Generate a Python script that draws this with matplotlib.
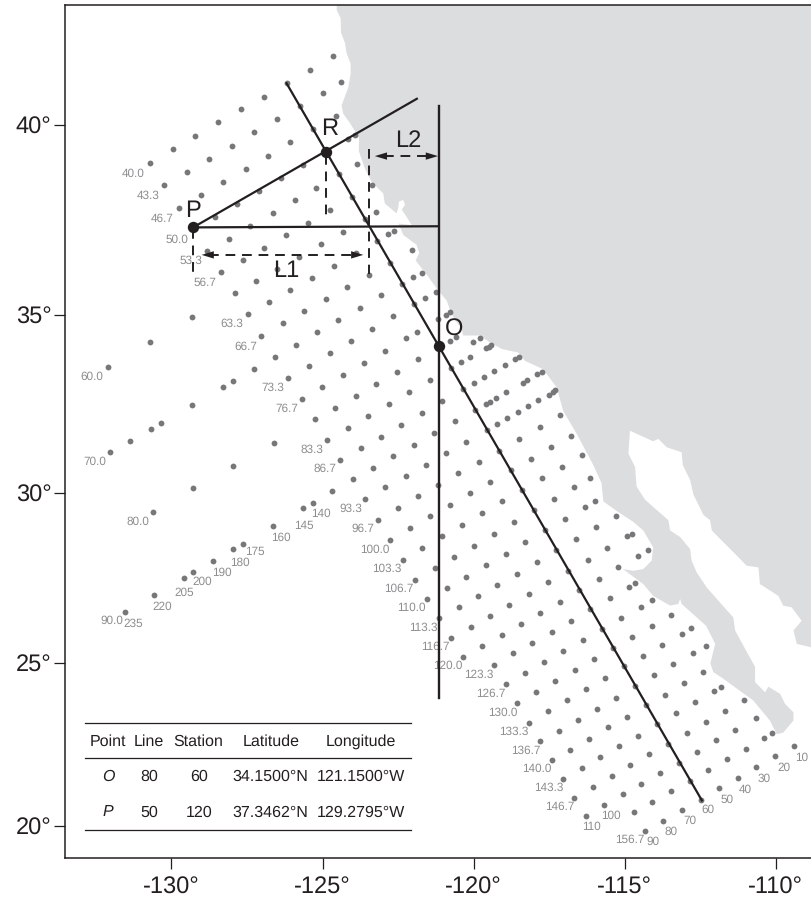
import numpy as np
import matplotlib
matplotlib.use('Agg')
import matplotlib.pyplot as plt

plt.rcParams['font.family'] = ['Liberation Sans', 'DejaVu Sans']
plt.rcParams['text.hinting'] = 'no_hinting'

# stations, one pair of lists per CalCOFI line
line40_lon = [-130.70, -129.96, -129.21, -128.46, -127.71, -126.95, -126.19, -125.42, -124.65]
line40_lat = [39.04, 39.39, 39.73, 40.07, 40.40, 40.72, 41.06, 41.40, 41.73]
line43_lon = [-130.23, -129.49, -128.75, -128.01, -127.26, -126.51, -125.75, -124.99, -124.38]
line43_lat = [38.47, 38.80, 39.14, 39.48, 39.82, 40.16, 40.49, 40.82, 41.09]
line46_lon = [-129.75, -129.01, -128.29, -127.54, -126.81, -126.06, -125.31, -124.56]
line46_lat = [37.87, 38.20, 38.54, 38.88, 39.22, 39.56, 39.91, 40.24]
line50_lon = [-129.28, -128.56, -127.83, -127.10, -126.37, -125.63, -124.89, -124.15, -123.93]
line50_lat = [37.35, 37.63, 37.97, 38.30, 38.64, 38.98, 39.32, 39.65, 39.76]
line53_lon = [-128.83, -128.11, -127.39, -126.65, -125.92, -125.20, -124.46, -123.86]
line53_lat = [36.72, 37.05, 37.39, 37.73, 38.06, 38.39, 38.74, 39.01]
line56_lon = [-128.36, -127.64, -126.93, -126.20, -125.48, -124.76, -124.03, -123.36]
line56_lat = [36.15, 36.48, 36.81, 37.14, 37.47, 37.81, 38.14, 38.45]
line60_lon = [-132.11, -130.72, -129.32, -127.91, -127.20, -126.49, -125.78, -125.05, -124.33, -123.61, -123.24]
line60_lat = [33.58, 34.25, 34.94, 35.59, 35.91, 36.24, 36.57, 36.90, 37.24, 37.57, 37.75]
line63_lon = [-127.46, -126.76, -126.06, -125.34, -124.62, -123.90, -123.20, -122.83, -122.63]
line63_lat = [35.03, 35.36, 35.68, 36.01, 36.33, 36.67, 37.00, 37.17, 37.26]
line66_lon = [-127.02, -126.31, -125.61, -124.90, -124.19, -123.47, -122.77, -122.05]
line66_lat = [34.43, 34.77, 35.11, 35.43, 35.76, 36.08, 36.40, 36.74]
line70_lon = [-132.04, -131.36, -130.68, -130.35, -129.32, -128.30, -127.96, -127.26, -126.58,
              -125.88, -125.19, -124.48, -123.77, -123.07, -122.36, -122.02, -121.72]
line70_lat = [31.18, 31.51, 31.84, 32.01, 32.51, 33.01, 33.18, 33.51, 33.85,
              34.19, 34.53, 34.87, 35.20, 35.53, 35.85, 36.02, 36.14]
line73_lon = [-126.13, -125.45, -124.76, -124.06, -123.37, -122.66, -121.98, -121.61, -121.25]
line73_lat = [33.27, 33.60, 33.95, 34.28, 34.63, 34.97, 35.30, 35.46, 35.62]
line76_lon = [-125.69, -125.01, -124.33, -123.63, -122.94, -122.24, -121.89, -121.19, -120.92, -120.77]
line76_lat = [32.68, 33.02, 33.35, 33.69, 34.02, 34.37, 34.53, 34.88, 35.01, 35.08]
line80_lon = [-130.62, -129.30, -127.96, -126.62, -125.26, -124.59, -123.90, -123.22, -122.54,
              -121.84, -121.15, -120.79, -120.59]
line80_lat = [29.48, 30.15, 30.80, 31.45, 32.11, 32.44, 32.77, 33.11, 33.44,
              33.78, 34.15, 34.29, 34.41]
line81_lon = [-120.02, -119.79]
line81_lat = [34.25, 34.38]
line83_lon = [-124.85, -124.17, -123.49, -122.80, -122.13, -121.44, -120.75, -120.41, -120.12,
              -119.59, -119.50, -119.42]
line83_lat = [31.54, 31.87, 32.21, 32.54, 32.88, 33.21, 33.55, 33.72, 33.85, 34.10, 34.13, 34.18]
line86_lon = [-124.41, -123.73, -123.07, -122.40, -121.71, -121.04, -120.34, -120.00, -119.66,
              -119.32, -118.96, -118.62, -118.49]
line86_lat = [30.97, 31.29, 31.62, 31.95, 32.28, 32.62, 32.95, 33.12, 33.29, 33.46, 33.62, 33.80, 33.85]
line90_lon = [-131.53, -130.56, -129.59, -129.27, -128.62, -127.96, -127.63, -126.64, -125.66,
              -125.33, -124.67, -123.99, -123.32, -122.66, -121.99, -121.31, -120.63, -119.95,
              -119.60, -119.47, -119.26, -118.92, -118.38, -118.24, -117.91, -117.75]
line90_lat = [26.54, 27.04, 27.54, 27.71, 28.05, 28.38, 28.55, 29.06, 29.57,
              29.74, 30.08, 30.41, 30.73, 31.06, 31.39, 31.72, 32.05, 32.37,
              32.53, 32.60, 32.71, 32.88, 33.13, 33.20, 33.37, 33.44]
line93_lon = [-123.59, -122.93, -122.25, -121.58, -120.92, -120.24, -119.57, -119.23, -118.89,
              -118.54, -118.20, -117.86, -117.51, -117.39, -117.30]
line93_lat = [29.84, 30.18, 30.49, 30.83, 31.15, 31.48, 31.82, 31.98, 32.15,
              32.31, 32.48, 32.65, 32.80, 32.87, 32.92]
line96_lon = [-123.17, -122.51, -121.84, -121.17, -120.52, -119.83, -119.16, -118.49, -117.82, -117.13]
line96_lat = [29.24, 29.58, 29.92, 30.25, 30.58, 30.90, 31.22, 31.56, 31.89, 32.22]
line100_lon = [-122.76, -122.10, -121.44, -120.77, -120.12, -119.45, -118.78, -118.11, -117.44, -116.77]
line100_lat = [28.66, 28.99, 29.34, 29.67, 30.02, 30.34, 30.67, 31.00, 31.32, 31.65]
line103_lon = [-122.35, -121.70, -121.04, -120.39, -119.73, -119.06, -118.40, -117.74, -117.07, -116.41]
line103_lat = [28.08, 28.41, 28.76, 29.09, 29.44, 29.77, 30.11, 30.44, 30.76, 31.09]
line106_lon = [-121.94, -121.29, -120.64, -119.99, -119.33, -118.68, -118.01, -117.35, -116.69, -116.15]
line106_lat = [27.49, 27.83, 28.16, 28.49, 28.83, 29.17, 29.52, 29.85, 30.19, 30.45]
line110_lon = [-121.55, -120.89, -120.24, -119.59, -118.94, -118.29, -117.63, -116.98, -116.32, -115.99]
line110_lat = [26.91, 27.25, 27.58, 27.91, 28.25, 28.59, 28.93, 29.27, 29.61, 29.78]
line113_lon = [-121.15, -120.50, -119.86, -119.22, -118.57, -117.92, -117.27, -116.61, -115.95, -115.29]
line113_lat = [26.34, 26.68, 27.01, 27.34, 27.67, 28.01, 28.35, 28.69, 29.02, 29.36]
line116_lon = [-120.74, -120.10, -119.46, -118.82, -118.17, -117.53, -116.88, -116.23, -115.58, -114.92, -114.77]
line116_lat = [25.76, 26.09, 26.42, 26.75, 27.08, 27.41, 27.75, 28.08, 28.42, 28.76, 28.84]
line120_lon = [-120.35, -119.72, -119.07, -118.44, -117.80, -117.14, -116.51, -115.85, -115.22, -114.56, -114.23]
line120_lat = [25.19, 25.52, 25.86, 26.18, 26.51, 26.84, 27.18, 27.51, 27.85, 28.19, 28.35]
line123_lon = [-119.33, -118.69, -118.06, -117.42, -116.78, -116.14, -115.49, -114.85, -114.65]
line123_lat = [24.95, 25.30, 25.62, 25.95, 26.27, 26.61, 26.94, 27.28, 27.38]
line126_lon = [-118.94, -118.31, -117.67, -117.04, -116.39, -115.76, -115.12, -114.47, -114.09]
line126_lat = [24.36, 24.69, 25.04, 25.36, 25.69, 26.03, 26.35, 26.69, 26.88]
line130_lon = [-118.56, -117.93, -117.30, -116.66, -116.03, -115.39, -114.76, -114.11, -113.47]
line130_lat = [23.78, 24.12, 24.46, 24.79, 25.13, 25.45, 25.79, 26.12, 26.45]
line133_lon = [-118.18, -117.55, -116.92, -116.29, -115.67, -115.03, -114.40, -113.76, -113.12, -112.80]
line133_lat = [23.20, 23.54, 23.89, 24.21, 24.55, 24.90, 25.23, 25.55, 25.88, 26.04]
line136_lon = [-117.80, -117.17, -116.55, -115.92, -115.29, -114.65, -114.02, -113.40, -112.75, -112.31]
line136_lat = [22.62, 22.94, 23.29, 23.62, 23.96, 24.30, 24.63, 24.97, 25.30, 25.52]
line140_lon = [-117.42, -116.80, -116.17, -115.55, -114.93, -114.30, -113.67, -113.04, -112.41]
line140_lat = [22.05, 22.37, 22.71, 23.05, 23.37, 23.72, 24.05, 24.39, 24.73]
line143_lon = [-117.05, -116.43, -115.81, -115.19, -114.56, -113.94, -113.32, -112.69, -112.06, -111.81]
line143_lat = [21.47, 21.81, 22.15, 22.48, 22.80, 23.14, 23.48, 23.81, 24.15, 24.29]
line146_lon = [-116.67, -116.05, -115.43, -114.82, -114.19, -113.57, -112.95, -112.32, -111.69, -111.07]
line146_lat = [20.89, 21.23, 21.56, 21.89, 22.22, 22.55, 22.88, 23.22, 23.55, 23.89]
line150_lon = [-116.29, -115.69, -115.07, -114.45, -113.84, -113.22, -112.60, -111.97, -111.35, -110.66]
line150_lat = [20.33, 20.65, 20.99, 21.32, 21.65, 21.97, 22.31, 22.65, 22.98, 23.34]
line153_lon = [-114.70, -114.09, -113.48, -112.85, -112.25, -111.62, -111.00, -110.38, -110.13]
line153_lat = [20.43, 20.76, 21.08, 21.41, 21.74, 22.08, 22.40, 22.74, 22.87]
line156_lon = [-114.34, -113.73, -113.12, -112.49, -111.88, -111.26, -110.65, -110.03, -109.41]
line156_lat = [19.85, 20.17, 20.50, 20.82, 21.17, 21.49, 21.82, 22.16, 22.48]

# coast: California and Baja down the Pacific side, back up the Gulf, then the mainland
land_lon = [-124.53, -124.53, -124.40, -124.39, -124.26, -124.20, -124.07, -124.07, -124.15, -124.37,
            -124.32, -124.09, -123.79, -123.80, -123.60, -123.38, -122.99, -122.94, -122.55, -122.50,
            -122.47, -122.33, -122.27, -122.38, -122.22, -122.05, -122.49, -122.44, -122.33, -121.89,
            -121.80, -121.92, -121.56, -121.17, -120.89, -120.78, -120.62, -120.40, -120.35, -119.79,
            -119.46, -119.07, -118.52, -118.30, -117.70, -117.25, -117.04, -116.59, -116.04, -115.77,
            -115.71, -115.16, -114.72, -114.39, -114.06, -114.11, -114.39, -114.72, -115.06, -114.39,
            -114.06, -113.50, -113.23, -113.17, -113.12, -112.62, -112.31, -112.01, -112.17, -112.07,
            -111.74, -110.75, -110.20, -109.97, -109.76, -109.42, -109.42, -109.70, -109.86, -110.25,
            -110.36, -110.69, -110.69, -111.02, -111.35, -111.41, -111.85, -112.29, -112.62, -112.79,
            -112.84, -113.17, -113.50, -113.56, -114.33, -114.61, -114.66, -114.88, -114.83, -114.06,
            -113.89, -113.61, -113.12, -113.08, -112.84, -112.73, -112.40, -112.18, -112.12, -111.91,
            -111.30, -110.97, -110.58, -110.53, -109.92, -109.76, -109.48, -109.15, -109.42, -109.31,
            -108.70, -108.70]
land_lat = [43.50, 42.87, 42.67, 42.32, 42.07, 41.80, 41.55, 41.30, 40.95, 40.50,
            40.30, 40.05, 39.68, 39.34, 38.89, 38.55, 38.24, 37.98, 37.72, 37.85,
            38.03, 38.07, 37.94, 37.82, 37.63, 37.41, 37.45, 37.37, 37.15, 36.89,
            36.67, 36.47, 36.10, 35.66, 35.39, 35.13, 34.86, 34.64, 34.44, 34.44,
            34.25, 34.07, 33.97, 33.74, 33.51, 33.00, 32.35, 31.70, 30.81, 30.30,
            29.77, 29.43, 29.18, 28.93, 28.44, 28.05, 27.80, 27.75, 27.80, 27.36,
            27.01, 26.72, 26.77, 26.92, 26.77, 26.37, 26.12, 25.58, 24.99, 24.73,
            24.53, 23.87, 23.26, 22.84, 22.89, 23.26, 23.51, 23.77, 24.07, 24.29,
            24.12, 24.43, 24.89, 25.43, 25.98, 26.37, 26.81, 27.26, 27.70, 28.05,
            28.39, 28.74, 28.93, 29.23, 29.82, 30.20, 30.76, 31.14, 31.79, 31.49,
            31.56, 31.32, 31.18, 30.81, 30.39, 29.97, 29.38, 29.23, 28.93, 28.74,
            28.20, 27.90, 27.85, 27.36, 27.01, 26.72, 26.67, 26.27, 25.98, 25.58,
            25.45, 43.50]

# line and station labels
line_names = ['40.0', '43.3', '46.7', '50.0', '53.3', '56.7', '60.0', '63.3', '66.7', '70.0', '73.3',
              '76.7', '80.0', '83.3', '86.7', '90.0', '93.3', '96.7', '100.0', '103.3', '106.7',
              '110.0', '113.3', '116.7', '120.0', '123.3', '126.7', '130.0', '133.3', '136.7',
              '140.0', '143.3', '146.7', '156.7']
line_name_lon = [-131.25, -130.78, -130.29, -129.82, -129.35, -128.89, -132.62, -127.99, -127.53, -132.53,
                 -126.63, -126.19, -131.11, -125.34, -124.91, -131.98, -124.07, -123.66, -123.28, -122.88,
                 -122.46, -122.07, -121.67, -121.27, -120.86, -119.83, -119.44, -119.05, -118.68, -118.29,
                 -117.92, -117.53, -117.15, -114.82]
line_name_lat = [38.76, 38.19, 37.58, 37.03, 36.45, 35.87, 33.30, 34.76, 34.14, 30.92,
                 33.00, 32.40, 29.17, 31.26, 30.70, 26.27, 29.57, 28.97, 28.37, 27.82,
                 27.23, 26.67, 26.07, 25.49, 24.91, 24.66, 24.08, 23.50, 22.92, 22.33,
                 21.78, 21.20, 20.61, 19.58]
station_names = ['235', '220', '205', '200', '190', '180', '175', '160', '145', '140', '110',
                 '100', '90', '80', '70', '60', '50', '40', '30', '20', '10']
station_name_lon = [-131.26, -130.30, -129.59, -128.97, -128.34, -127.73, -127.25, -126.39, -125.63, -125.04,
                    -116.10, -115.47, -114.08, -113.46, -112.85, -112.24, -111.62, -111.01, -110.39, -109.75,
                    -109.15]
station_name_lat = [26.19, 26.70, 27.11, 27.43, 27.69, 27.99, 28.31, 28.71, 29.08, 29.41,
                    19.97, 20.31, 19.52, 19.83, 20.16, 20.50, 20.81, 21.14, 21.47, 21.81,
                    22.13]

# reference points and construction lines
point_names = ['O', 'P', 'R']
point_lon = [-121.15, -129.28, -124.89]
point_lat = [34.15, 37.35, 39.32]
table_header = ['Point', 'Line', 'Station', 'Latitude', 'Longitude']
table_row_o = ['O', '80', '60', '34.1500°N', '121.1500°W']
table_row_p = ['P', '50', '120', '37.3462°N', '129.2795°W']
lon_ticks = [-130, -125, -120, -115, -110]
lat_ticks = [20, 25, 30, 35, 40]

INK = '#231f20'
GREY = '#8e8e90'


def merc(lat):
    return np.log(np.tan(np.pi / 4 + np.radians(lat) / 2))


def inv_merc(y):
    return np.degrees(2 * np.arctan(np.exp(y)) - np.pi / 2)


fig = plt.figure(figsize=(8.11, 8.99), dpi=100)
ax = fig.add_axes([0.0805, 0.0456, 0.9195, 0.9492])
ax.set_yscale('function', functions=(merc, inv_merc))
ax.set_xlim(-133.51, -108.84)
ax.set_ylim(19.0, 43.0)

ax.fill(land_lon, land_lat, color='#dcddde', lw=0, zorder=1)

all_lines = [(line40_lon, line40_lat), (line43_lon, line43_lat), (line46_lon, line46_lat),
             (line50_lon, line50_lat), (line53_lon, line53_lat), (line56_lon, line56_lat),
             (line60_lon, line60_lat), (line63_lon, line63_lat), (line66_lon, line66_lat),
             (line70_lon, line70_lat), (line73_lon, line73_lat), (line76_lon, line76_lat),
             (line80_lon, line80_lat), (line81_lon, line81_lat), (line83_lon, line83_lat),
             (line86_lon, line86_lat), (line90_lon, line90_lat), (line93_lon, line93_lat),
             (line96_lon, line96_lat), (line100_lon, line100_lat), (line103_lon, line103_lat),
             (line106_lon, line106_lat), (line110_lon, line110_lat), (line113_lon, line113_lat),
             (line116_lon, line116_lat), (line120_lon, line120_lat), (line123_lon, line123_lat),
             (line126_lon, line126_lat), (line130_lon, line130_lat), (line133_lon, line133_lat),
             (line136_lon, line136_lat), (line140_lon, line140_lat), (line143_lon, line143_lat),
             (line146_lon, line146_lat), (line150_lon, line150_lat), (line153_lon, line153_lat),
             (line156_lon, line156_lat)]
for lons, lats in all_lines:
    ax.plot(lons, lats, ls='none', marker='o', ms=4.2, mfc='#77777a', mec='none', zorder=2)

for name, x, y in zip(line_names, line_name_lon, line_name_lat):
    ax.text(x, y, name, color=GREY, fontsize=8.5, ha='center', va='center', zorder=3)
for name, x, y in zip(station_names, station_name_lon, station_name_lat):
    ax.text(x, y, name, color=GREY, fontsize=8.5, ha='center', va='center', zorder=3)

# solid construction lines
ax.plot([-126.19, -112.45], [41.06, 20.80], color=INK, lw=1.6, zorder=4)
ax.plot([-129.28, -121.88], [37.35, 40.67], color=INK, lw=1.6, zorder=4)
ax.plot([-129.28, -121.15], [37.35, 37.38], color=INK, lw=1.6, zorder=4)
ax.plot([-121.15, -121.15], [40.50, 23.95], color=INK, lw=1.7, zorder=4)

# dashed drop lines and the L1/L2 spans
dash = dict(color=INK, lw=1.4, ls=(0, (5, 3.5)), zorder=4)
ax.plot([-124.89, -124.89], [39.25, 37.55], **dash)
ax.plot([-129.30, -129.30], [37.30, 36.05], **dash)
ax.plot([-123.47, -123.47], [39.39, 36.10], **dash)
ax.plot([-128.75, -123.95], [36.62, 36.62], **dash)
ax.plot([-122.95, -121.50], [39.21, 39.21], **dash)

arrow = dict(arrowstyle='-|>,head_length=0.8,head_width=0.24', color=INK, lw=0, mutation_scale=11,
             shrinkA=0, shrinkB=0)
ax.annotate('', xy=(-129.00, 36.62), xytext=(-128.55, 36.62), arrowprops=arrow, zorder=5)
ax.annotate('', xy=(-123.65, 36.62), xytext=(-124.10, 36.62), arrowprops=arrow, zorder=5)
ax.annotate('', xy=(-123.27, 39.21), xytext=(-122.82, 39.21), arrowprops=arrow, zorder=5)
ax.annotate('', xy=(-121.18, 39.21), xytext=(-121.63, 39.21), arrowprops=arrow, zorder=5)

ax.plot(point_lon, point_lat, ls='none', marker='o', ms=8.2, mfc=INK, mec='none', zorder=6)
ax.text(-120.66, 34.59, 'O', fontsize=17, color=INK, ha='center', va='center', zorder=6)
ax.text(-129.29, 37.79, 'P', fontsize=17, color=INK, ha='center', va='center', zorder=6)
ax.text(-124.78, 39.90, 'R', fontsize=17, color=INK, ha='center', va='center', zorder=6)
ax.text(-126.21, 36.20, 'L1', fontsize=17, color=INK, ha='center', va='center', zorder=6)
ax.text(-122.16, 39.61, 'L2', fontsize=17, color=INK, ha='center', va='center', zorder=6)

# little table, placed in axes fractions
col_x = [0.0577, 0.1126, 0.1789, 0.2755, 0.3965]
for y_rule in [0.1579, 0.1168, 0.0325]:
    ax.plot([0.0264, 0.4632], [y_rule, y_rule], color=INK, lw=0.9, transform=ax.transAxes, zorder=6)
for row, y_row in [(table_header, 0.1363), (table_row_o, 0.0953), (table_row_p, 0.0536)]:
    for i, (cell, x_col) in enumerate(zip(row, col_x)):
        style = 'italic' if i == 0 and row is not table_header else 'normal'
        ax.text(x_col, y_row, cell, transform=ax.transAxes, fontsize=11.5, color=INK,
                ha='center', va='center', style=style, zorder=6)

ax.set_xticks(lon_ticks)
ax.set_xticklabels(['{}°'.format(t) for t in lon_ticks])
ax.set_yticks(lat_ticks)
ax.set_yticklabels(['{}°'.format(t) for t in lat_ticks])
ax.minorticks_off()
ax.tick_params(axis='x', pad=5)
ax.tick_params(axis='y', pad=2)
ax.tick_params(axis='both', length=8, width=0.9, color=INK, labelcolor=INK, labelsize=17)
for side in ['left', 'top', 'bottom']:
    ax.spines[side].set_linewidth(1.1)
    ax.spines[side].set_color(INK)
ax.spines['right'].set_visible(False)

fig.savefig('out.png', dpi=100)
